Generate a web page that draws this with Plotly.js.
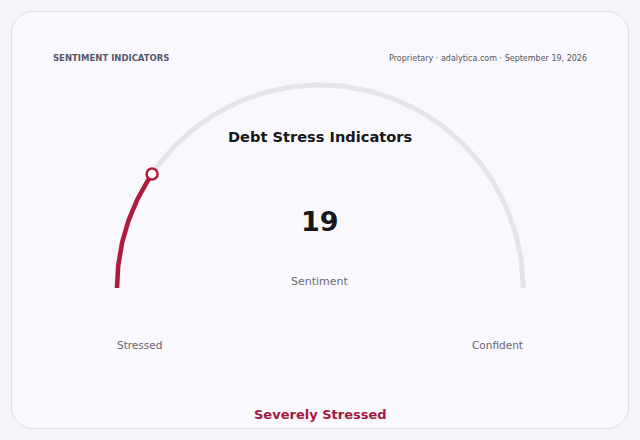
<!DOCTYPE html>
<html>
<head>
<meta charset="utf-8">
<script src="https://cdn.plot.ly/plotly-3.0.1.min.js"></script>
<style>
  html, body { margin: 0; padding: 0; background: #f4f4f9; }
  #card {
    position: absolute; left: 11px; top: 11px; width: 616px; height: 416px;
    border: 1px solid #dedee8; border-radius: 22px; background: #f9f9fd;
  }
  #chart { position: absolute; left: 0; top: 0; width: 640px; height: 440px; }
</style>
</head>
<body>
<div id="card"></div>
<div id="chart"></div>
<script>
// gauge data
const gaugeValue = 19
const gaugeMin = 0
const gaugeMax = 100
const endLabels = ['Stressed', 'Confident']
const gaugeTitle = 'Debt Stress Indicators'
const valueLabel = 'Sentiment'
const bandLabel = 'Severely Stressed'
const headerLeft = 'SENTIMENT INDICATORS'
const headerRight = 'Proprietary · adalytica.com · September 19, 2026'

const FONT = 'DejaVu Sans, sans-serif'
const RED = '#b01a3c'

// angle (deg) from the left end of the half circle
function angleOf(v) {
  return 180 * (v - gaugeMin) / (gaugeMax - gaugeMin)
}

function arcPoints(fromV, toV) {
  let xs = [], ys = []
  let a0 = angleOf(fromV), a1 = angleOf(toV)
  let steps = 120
  for (let i = 0; i <= steps; i++) {
    let a = (a0 + (a1 - a0) * i / steps) * Math.PI / 180
    xs.push(-Math.cos(a))
    ys.push(Math.sin(a))
  }
  return {x: xs, y: ys}
}

let track = arcPoints(gaugeMin, gaugeMax)
let fill = arcPoints(gaugeMin, gaugeValue)
let tip = arcPoints(gaugeValue, gaugeValue)

let traces = [
  {
    x: track.x, y: track.y, mode: 'lines', type: 'scatter',
    line: {color: '#e4e4ea', width: 5}, hoverinfo: 'skip'
  },
  {
    x: fill.x, y: fill.y, mode: 'lines', type: 'scatter',
    line: {color: RED, width: 4.5}, hoverinfo: 'skip'
  },
  {
    x: [tip.x[0]], y: [tip.y[0]], mode: 'markers', type: 'scatter',
    marker: {size: 11, color: '#ffffff', line: {color: RED, width: 2.5}},
    hoverinfo: 'skip'
  }
]

// paper is 640x440 with no margins, so px -> paper is simple
const px = x => x / 640
const py = y => 1 - y / 440

function note(text, x, y, size, color, bold, anchor) {
  return {
    text: bold ? '<b>' + text + '</b>' : text,
    xref: 'paper', yref: 'paper', x: px(x), y: py(y),
    xanchor: anchor || 'center', yanchor: 'middle',
    showarrow: false,
    font: {family: FONT, size: size, color: color}
  }
}

let layout = {
  width: 640, height: 440,
  margin: {l: 0, r: 0, t: 0, b: 0},
  paper_bgcolor: 'rgba(0,0,0,0)',
  plot_bgcolor: 'rgba(0,0,0,0)',
  showlegend: false,
  xaxis: {range: [-320 / 203, 320 / 203], visible: false, fixedrange: true},
  yaxis: {range: [-152 / 203, 288 / 203], visible: false, fixedrange: true},
  annotations: [
    note(headerLeft, 51, 58, 8.5, '#55566a', true, 'left'),
    note(headerRight, 589, 58, 8, '#55565f', false, 'right'),
    note(gaugeTitle, 320, 137, 14.6, '#17171c', true),
    note(String(gaugeValue), 320, 221, 27, '#17171c', true),
    note(valueLabel, 320, 281, 11, '#6a6a74', false),
    note(endLabels[0], 139, 345, 10.5, '#66666f', false),
    note(endLabels[1], 497, 345, 10.5, '#66666f', false),
    note(bandLabel, 320, 414, 13, '#a3173f', true)
  ]
}

Plotly.newPlot('chart', traces, layout, {staticPlot: true, displayModeBar: false})
</script>
</body>
</html>
